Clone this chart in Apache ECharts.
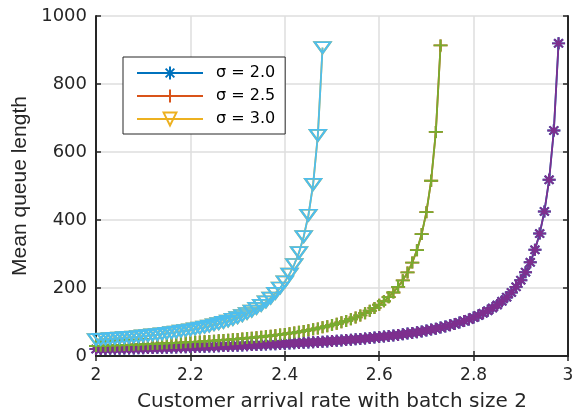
<!DOCTYPE html>
<html>
<head>
<meta charset="utf-8">
<script src="https://cdn.jsdelivr.net/npm/echarts@6/dist/echarts.min.js"></script>
<style>
    html, body { margin: 0; padding: 0; background: #fff; }
</style>
</head>
<body>
<div id="main" style="width:572px;height:413px;"></div>
<script>
    // arrival rate grid (batch size 2)
    var xValues = [
        2.00, 2.01, 2.02, 2.03, 2.04, 2.05, 2.06, 2.07, 2.08, 2.09,
        2.10, 2.11, 2.12, 2.13, 2.14, 2.15, 2.16, 2.17, 2.18, 2.19,
        2.20, 2.21, 2.22, 2.23, 2.24, 2.25, 2.26, 2.27, 2.28, 2.29,
        2.30, 2.31, 2.32, 2.33, 2.34, 2.35, 2.36, 2.37, 2.38, 2.39,
        2.40, 2.41, 2.42, 2.43, 2.44, 2.45, 2.46, 2.47, 2.48, 2.49,
        2.50, 2.51, 2.52, 2.53, 2.54, 2.55, 2.56, 2.57, 2.58, 2.59,
        2.60, 2.61, 2.62, 2.63, 2.64, 2.65, 2.66, 2.67, 2.68, 2.69,
        2.70, 2.71, 2.72, 2.73, 2.74, 2.75, 2.76, 2.77, 2.78, 2.79,
        2.80, 2.81, 2.82, 2.83, 2.84, 2.85, 2.86, 2.87, 2.88, 2.89,
        2.90, 2.91, 2.92, 2.93, 2.94, 2.95, 2.96, 2.97, 2.98
    ];

    // mean queue length, sigma = 2.0
    var sigma20 = [
        20.4, 20.6, 20.8, 21.1, 21.3, 21.6, 21.9, 22.1, 22.4, 22.7,
        23.0, 23.3, 23.6, 23.9, 24.2, 24.5, 24.9, 25.2, 25.6, 25.9,
        26.3, 26.7, 27.0, 27.4, 27.8, 28.2, 28.7, 29.1, 29.6, 30.0,
        30.5, 31.0, 31.5, 32.0, 32.5, 33.1, 33.7, 34.2, 34.8, 35.5,
        36.1, 36.8, 37.5, 38.2, 38.9, 39.7, 40.5, 41.3, 42.1, 43.0,
        43.9, 44.9, 45.9, 46.9, 48.0, 49.1, 50.3, 51.5, 52.8, 54.2,
        55.6, 57.1, 58.7, 60.3, 62.1, 63.9, 65.9, 67.9, 70.1, 72.4,
        74.9, 77.6, 80.4, 83.5, 86.7, 90.3, 94.1, 98.2, 102.7, 107.6,
        113.0, 118.9, 125.5, 132.9, 141.1, 150.3, 160.9, 173.0, 187.0, 203.4,
        222.9, 246.5, 275.6, 312.3, 360.1, 425.1, 518.2, 663.2, 919.6
    ];

    // sigma = 2.5
    var sigma25 = [
        29.5, 29.9, 30.3, 30.8, 31.2, 31.7, 32.2, 32.7, 33.2, 33.7,
        34.3, 34.8, 35.4, 36.0, 36.6, 37.3, 37.9, 38.6, 39.3, 40.1,
        40.8, 41.6, 42.4, 43.3, 44.1, 45.0, 46.0, 47.0, 48.0, 49.1,
        50.2, 51.4, 52.6, 53.9, 55.2, 56.6, 58.1, 59.7, 61.3, 63.0,
        64.9, 66.8, 68.8, 71.0, 73.3, 75.8, 78.4, 81.2, 84.2, 87.5,
        91.0, 94.8, 98.9, 103.3, 108.2, 113.5, 119.4, 126.0, 133.2, 141.4,
        150.6, 161.0, 173.0, 186.9, 203.2, 222.5, 245.9, 274.7, 311.2, 358.6,
        423.0, 515.4, 659.1, 913.4
    ];

    // sigma = 3.0
    var sigma30 = [
        48, 49, 50, 51, 52, 53, 54, 55, 56, 57,
        59, 60, 62, 63, 65, 67, 69, 70, 73, 75,
        77, 80, 82, 85, 88, 92, 95, 99, 103, 108,
        113, 119, 125, 132, 140, 149, 159, 170, 184, 200,
        218, 241, 269, 304, 351, 414, 505, 649, 907
    ];

    var legendNames = ['σ = 2.0', 'σ = 2.5', 'σ = 3.0'];

    var asteriskPath = 'path://M0,5L10,5M5,0L5,10M1.6,1.6L8.4,8.4M1.6,8.4L8.4,1.6';
    var plusPath = 'path://M0,5L10,5M5,0L5,10';
    var trianglePath = 'path://M0,0L10,0L5,8.66Z';

    function pairs(values){
        var out = [];
        values.forEach(function(v, i){
            out.push([xValues[i], v]);
        });
        return out;
    }

    function makeSeries(name, values, color, symbol, size){
        return {
            name: name,
            type: 'line',
            data: pairs(values),
            symbol: symbol,
            symbolSize: size,
            showAllSymbol: true,
            lineStyle: { color: color, width: 1.8 },
            itemStyle: { color: 'rgba(0,0,0,0)', borderColor: color, borderWidth: 2 },
            emphasis: { disabled: true },
            z: 3
        };
    }

    var axisColor = '#262626';
    var tickFont = { color: axisColor, fontFamily: 'DejaVu Sans', fontSize: 17 };

    var myChart = echarts.init(document.getElementById('main'));
    var option = {
        animation: false,
        backgroundColor: '#fff',
        grid: { left: 96, right: 4, top: 16, bottom: 57, containLabel: false, outerBoundsMode: 'none' },
        legend: {
            data: legendNames,
            orient: 'vertical',
            left: 123,
            top: 57,
            itemWidth: 66,
            itemHeight: 16,
            itemGap: 7,
            padding: [8, 10, 7, 13],
            backgroundColor: '#fff',
            borderColor: axisColor,
            borderWidth: 1,
            textStyle: { color: '#000', fontFamily: 'DejaVu Sans', fontSize: 16, padding: [0, 0, 0, 8] },
            selectedMode: false
        },
        xAxis: [{
            type: 'value',
            min: 2,
            max: 3,
            interval: 0.2,
            name: 'Customer arrival rate with batch size 2',
            nameLocation: 'middle',
            nameGap: 36,
            nameTextStyle: { color: axisColor, fontFamily: 'DejaVu Sans', fontSize: 20 },
            axisLine: { lineStyle: { color: axisColor, width: 2 } },
            axisTick: { inside: true, length: 5, lineStyle: { color: axisColor, width: 1.5 } },
            axisLabel: Object.assign({ margin: 11 }, tickFont),
            splitLine: { show: true, lineStyle: { color: '#dedede', width: 1.5 } }
        }, {
            type: 'value',
            position: 'top',
            min: 2,
            max: 3,
            interval: 0.2,
            axisLine: { lineStyle: { color: axisColor, width: 2 } },
            axisTick: { inside: true, length: 5, lineStyle: { color: axisColor, width: 1.5 } },
            axisLabel: { show: false },
            splitLine: { show: false }
        }],
        yAxis: [{
            type: 'value',
            min: 0,
            max: 1000,
            interval: 200,
            name: 'Mean queue length',
            nameLocation: 'middle',
            nameGap: 64,
            nameTextStyle: { color: axisColor, fontFamily: 'Liberation Sans', fontSize: 21 },
            axisLine: { show: true, lineStyle: { color: axisColor, width: 2 } },
            axisTick: { show: true, inside: true, length: 5, lineStyle: { color: axisColor, width: 1.5 } },
            axisLabel: Object.assign({ margin: 9, formatter: function(v){ return String(v); } }, tickFont, { fontSize: 18 }),
            splitLine: { show: true, lineStyle: { color: '#dedede', width: 1.5 } }
        }, {
            type: 'value',
            position: 'right',
            min: 0,
            max: 1000,
            interval: 200,
            axisLine: { show: true, lineStyle: { color: axisColor, width: 2 } },
            axisTick: { show: true, inside: true, length: 5, lineStyle: { color: axisColor, width: 1.5 } },
            axisLabel: { show: false },
            splitLine: { show: false }
        }],
        series: [
            // legend entries (drawn first, covered by the coloured copies)
            makeSeries(legendNames[0], sigma20, '#0072BD', asteriskPath, [13, 12]),
            makeSeries(legendNames[1], sigma25, '#D95319', plusPath, [14, 12]),
            makeSeries(legendNames[2], sigma30, '#EDB120', trianglePath, [16, 11]),
            makeSeries('s20', sigma20, '#7E2F8E', asteriskPath, [13, 12]),
            makeSeries('s25', sigma25, '#77AC30', plusPath, [14, 12]),
            makeSeries('s30', sigma30, '#4DBEEE', trianglePath, [16, 11])
        ]
    };
    myChart.setOption(option);
</script>
</body>
</html>
